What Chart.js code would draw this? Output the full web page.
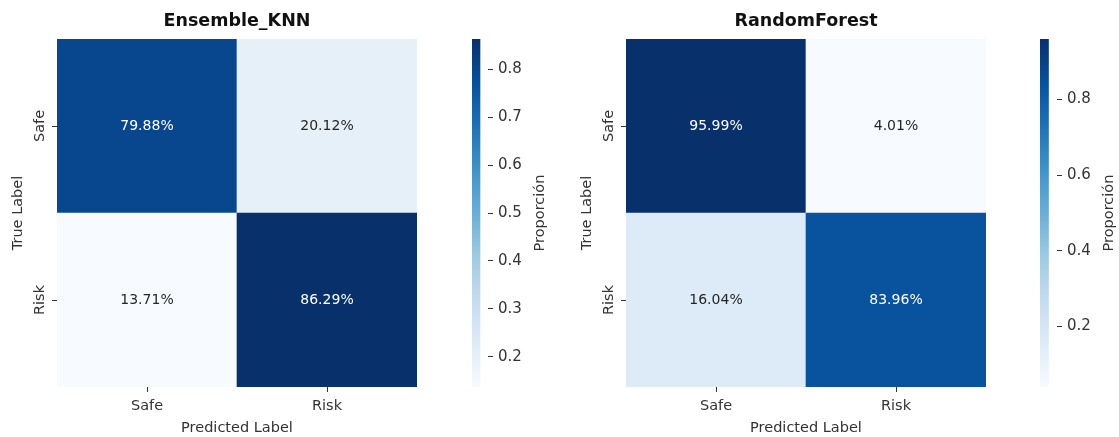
<!DOCTYPE html>
<html><head><meta charset="utf-8">
<script src="https://cdn.jsdelivr.net/npm/chart.js@4/dist/chart.umd.min.js"></script>
<style>
html,body{margin:0;padding:0;background:#fff;}
#wrap{position:relative;width:1119px;height:437px;overflow:hidden;background:#fff;}
.box{position:absolute;top:0;height:437px;}
</style></head><body>
<div id="wrap">
 <div class="box" style="left:0;width:417px"><canvas id="hmL"></canvas></div>
 <div class="box" style="left:472px;width:100px"><canvas id="cbL"></canvas></div>
 <div class="box" style="left:569px;width:417px"><canvas id="hmR"></canvas></div>
 <div class="box" style="left:1040px;width:79px"><canvas id="cbR"></canvas></div>
</div>
<script>
// ---- data ----
const predictedLabels = ['Safe', 'Risk'];
const trueLabels = ['Safe', 'Risk'];
const knnSafeRow = [79.88, 20.12];
const knnRiskRow = [13.71, 86.29];
const rfSafeRow = [95.99, 4.01];
const rfRiskRow = [16.04, 83.96];
const knnColorbarTicks = [0.2, 0.3, 0.4, 0.5, 0.6, 0.7, 0.8];
const rfColorbarTicks = [0.2, 0.4, 0.6, 0.8];
const colorbarLabel = 'Proporción';

// ---- styling ----
const FONT = '"DejaVu Sans", "Liberation Sans", sans-serif';
const TXT = '#333333';
const BLUES = [
  [0.9686, 0.9843, 1.0], [0.8706, 0.9216, 0.9686], [0.7765, 0.8588, 0.9373],
  [0.6196, 0.7922, 0.8824], [0.4196, 0.6824, 0.8392], [0.2588, 0.5725, 0.7765],
  [0.1294, 0.4431, 0.7098], [0.0314, 0.3176, 0.6118], [0.0314, 0.1882, 0.4196]
];
function bluesRGB(t) {
  t = Math.max(0, Math.min(1, t));
  const p = t * (BLUES.length - 1);
  const i = Math.min(BLUES.length - 2, Math.floor(p));
  const f = p - i;
  return BLUES[i].map((c, k) => c + (BLUES[i + 1][k] - c) * f);
}
function rgbStr(c) { return 'rgb(' + c.map(v => Math.round(v * 255)).join(',') + ')'; }
function lum(c) {
  const l = c.map(v => v <= 0.03928 ? v / 12.92 : Math.pow((v + 0.055) / 1.055, 2.4));
  return 0.2126 * l[0] + 0.7152 * l[1] + 0.0722 * l[2];
}

const cellLabels = {
  id: 'cellLabels',
  afterDatasetsDraw(chart) {
    const ctx = chart.ctx;
    chart.data.datasets.forEach((ds, di) => {
      const meta = chart.getDatasetMeta(di);
      meta.data.forEach((bar, i) => {
        const p = bar.getProps(['x', 'y', 'base'], true);
        ctx.save();
        ctx.font = '14px ' + FONT;
        ctx.fillStyle = ds.textColors[i];
        ctx.textAlign = 'center';
        ctx.textBaseline = 'middle';
        ctx.fillText(ds.values[i].toFixed(2) + '%', p.x, (p.y + p.base) / 2);
        ctx.restore();
      });
    });
  }
};

function heatmap(id, title, rows) {
  const all = [].concat(...rows);
  const vmin = Math.min(...all), vmax = Math.max(...all);
  const n = trueLabels.length;
  // bottom-most row first in the stack
  const datasets = rows.slice().reverse().map((row, ri) => {
    const cols = row.map(v => bluesRGB((v - vmin) / (vmax - vmin)));
    return {
      label: trueLabels[n - 1 - ri],
      data: row.map(() => 1),
      values: row,
      backgroundColor: cols.map(rgbStr),
      textColors: cols.map(c => lum(c) < 0.408 ? '#ffffff' : '#262626'),
      borderWidth: 0,
      barPercentage: 1.0,
      categoryPercentage: 1.0
    };
  });
  return new Chart(document.getElementById(id), {
    type: 'bar',
    data: { labels: predictedLabels, datasets },
    options: {
      responsive: true, maintainAspectRatio: false, animation: false,
      layout: { padding: { left: 0, right: 0, top: 0, bottom: 0 } },
      plugins: {
        legend: { display: false }, tooltip: { enabled: false },
        title: { display: true, text: title, fullSize: false, color: '#111',
          font: { family: FONT, size: 17.5, weight: 'bold' }, padding: { top: 11, bottom: 7 } }
      },
      scales: {
        x: {
          stacked: true, offset: true,
          grid: { display: true, drawOnChartArea: false, offset: false, tickLength: 5, tickColor: TXT, tickWidth: 1 },
          border: { display: false },
          ticks: { color: TXT, font: { family: FONT, size: 14.5 }, padding: 6, maxRotation: 0 },
          title: { display: true, text: 'Predicted Label', color: TXT, font: { family: FONT, size: 14.5 }, padding: { top: 0, bottom: 0 } },
          afterFit(s) { s.height = 50; }
        },
        y: {
          stacked: true, min: 0, max: n,
          afterBuildTicks(s) { s.ticks = trueLabels.map((_, i) => ({ value: n - 1 - i + 0.5 })); },
          grid: { display: true, drawOnChartArea: false, tickLength: 5, tickColor: TXT, tickWidth: 1 },
          border: { display: false },
          ticks: { color: TXT, font: { family: FONT, size: 14.5 }, padding: -4, minRotation: 90, maxRotation: 90, crossAlign: 'center',
            callback: v => trueLabels[n - 1 - Math.floor(v)] },
          title: { display: true, text: 'True Label', color: TXT, font: { family: FONT, size: 14.5 }, padding: { top: 10, bottom: 0 } },
          afterFit(s) { s.width = 57; }
        }
      }
    },
    plugins: [cellLabels]
  });
}

function colorbar(id, rows, tickValues, width) {
  const all = [].concat(...rows).map(v => v / 100);
  const vmin = Math.min(...all), vmax = Math.max(...all);
  const cbTitle = {
    id: 'cbTitle',
    afterDraw(chart) {
      const ca = chart.chartArea, ctx = chart.ctx;
      ctx.save();
      ctx.translate(ca.right + 52, (ca.top + ca.bottom) / 2);
      ctx.rotate(-Math.PI / 2);
      ctx.font = '14.5px ' + FONT;
      ctx.fillStyle = TXT;
      ctx.textAlign = 'center';
      ctx.textBaseline = 'middle';
      ctx.fillText(colorbarLabel, 0, 0);
      ctx.restore();
    }
  };
  return new Chart(document.getElementById(id), {
    type: 'bar',
    data: { labels: [''], datasets: [{
      data: [[vmin, vmax]],
      barPercentage: 1.0, categoryPercentage: 1.0, borderWidth: 0,
      backgroundColor(ctx) {
        const ca = ctx.chart.chartArea;
        if (!ca) return 'rgba(0,0,0,0)';
        const g = ctx.chart.ctx.createLinearGradient(0, ca.bottom, 0, ca.top);
        BLUES.forEach((c, i) => g.addColorStop(i / (BLUES.length - 1), rgbStr(c)));
        return g;
      }
    }] },
    options: {
      responsive: true, maintainAspectRatio: false, animation: false,
      layout: { padding: { left: 0, right: 0, top: 39, bottom: 50 } },
      plugins: { legend: { display: false }, tooltip: { enabled: false } },
      scales: {
        x: { display: false, offset: false },
        y: {
          position: 'right', min: vmin, max: vmax,
          afterBuildTicks(s) { s.ticks = tickValues.map(v => ({ value: v })); },
          grid: { display: true, drawOnChartArea: false, tickLength: 5, tickColor: TXT, tickWidth: 1 },
          border: { display: false },
          ticks: { color: TXT, font: { family: FONT, size: 15 }, padding: 5, callback: v => v.toFixed(1) },
          afterFit(s) { s.width = width; }
        }
      }
    },
    plugins: [cbTitle]
  });
}

heatmap('hmL', 'Ensemble_KNN', [knnSafeRow, knnRiskRow]);
colorbar('cbL', [knnSafeRow, knnRiskRow], knnColorbarTicks, 84);
heatmap('hmR', 'RandomForest', [rfSafeRow, rfRiskRow]);
colorbar('cbR', [rfSafeRow, rfRiskRow], rfColorbarTicks, 62);
</script>
</body></html>
